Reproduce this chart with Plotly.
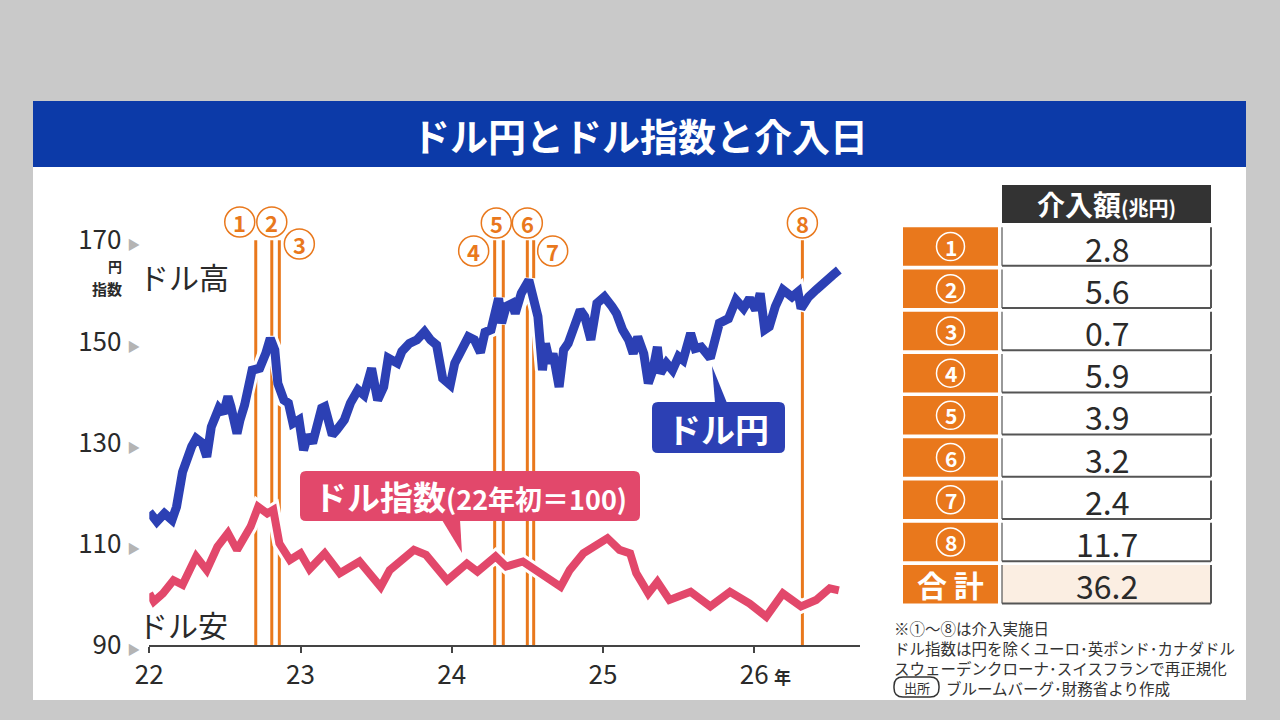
import plotly.graph_objects as go

# time axis in decimal years (2022.5 = mid 2022)
# ドル円 (円)
usdjpy_t = [
    2022.00, 2022.05, 2022.10, 2022.15, 2022.18, 2022.22, 2022.28, 2022.31, 2022.35, 2022.38,
    2022.41, 2022.46, 2022.49, 2022.52, 2022.54, 2022.58, 2022.60, 2022.63, 2022.68, 2022.73,
    2022.77, 2022.80, 2022.83, 2022.84, 2022.85, 2022.89, 2022.92, 2022.95, 2022.99, 2023.02,
    2023.05, 2023.08, 2023.14, 2023.16, 2023.21, 2023.24, 2023.29, 2023.33, 2023.38, 2023.42,
    2023.47, 2023.51, 2023.55, 2023.58, 2023.64, 2023.67, 2023.72, 2023.77, 2023.82, 2023.86,
    2023.90, 2023.94, 2023.99, 2024.02, 2024.07, 2024.11, 2024.15, 2024.19, 2024.22, 2024.26,
    2024.31, 2024.33, 2024.36, 2024.40, 2024.42, 2024.46, 2024.51, 2024.54, 2024.57, 2024.60,
    2024.62, 2024.65, 2024.67, 2024.71, 2024.74, 2024.77, 2024.82, 2024.85, 2024.88, 2024.92,
    2024.96, 2025.01, 2025.06, 2025.09, 2025.13, 2025.17, 2025.20, 2025.23, 2025.27, 2025.30,
    2025.33, 2025.36, 2025.38, 2025.42, 2025.46, 2025.50, 2025.53, 2025.58, 2025.61, 2025.65,
    2025.71, 2025.74, 2025.77, 2025.83, 2025.88, 2025.93, 2025.97, 2026.01, 2026.04, 2026.07,
    2026.10, 2026.14, 2026.19, 2026.25, 2026.29, 2026.31, 2026.36, 2026.41, 2026.47, 2026.52,
    2026.56,
]
usdjpy = [
    116.3, 114.4, 116.0, 114.7, 117.3, 124.2, 129.2, 130.8, 129.9, 127.2,
    133.1, 136.8, 135.8, 139.1, 137.1, 131.8, 134.5, 137.4, 144.3, 144.7,
    147.6, 150.6, 148.3, 146.3, 141.7, 138.4, 137.8, 133.8, 134.5, 128.5,
    131.5, 129.9, 136.8, 137.1, 131.5, 132.5, 134.5, 137.8, 140.4, 139.4,
    144.7, 138.4, 141.0, 146.7, 145.7, 148.0, 149.6, 150.3, 151.9, 150.3,
    149.3, 142.7, 141.4, 145.7, 148.6, 150.9, 150.3, 147.8, 151.8, 152.3,
    158.5, 153.6, 156.9, 157.5, 155.5, 159.5, 162.1, 158.8, 154.9, 144.3,
    149.6, 145.7, 147.6, 141.0, 148.3, 149.6, 153.6, 156.2, 154.9, 150.3,
    157.5, 158.8, 156.9, 155.5, 152.3, 150.3, 147.6, 150.9, 147.6, 141.7,
    144.3, 148.9, 143.7, 145.7, 144.3, 147.0, 146.3, 151.6, 148.6, 148.9,
    146.7, 149.6, 153.6, 154.5, 158.2, 156.5, 158.5, 156.2, 159.5, 152.3,
    152.9, 156.9, 160.2, 158.8, 159.8, 156.5, 158.8, 160.2, 161.5, 163.1,
    164.1,
]

# ドル指数 (22年初=100)
dxy_t = [
    2022.00, 2022.03, 2022.09, 2022.16, 2022.22, 2022.31, 2022.38, 2022.45, 2022.52, 2022.58,
    2022.67, 2022.72, 2022.78, 2022.82, 2022.86, 2022.93, 2023.00, 2023.06, 2023.16, 2023.26,
    2023.39, 2023.45, 2023.53, 2023.59, 2023.75, 2023.83, 2023.97, 2024.10, 2024.17, 2024.29,
    2024.36, 2024.47, 2024.54, 2024.63, 2024.72, 2024.78, 2024.87, 2025.03, 2025.11, 2025.18,
    2025.22, 2025.30, 2025.36, 2025.44, 2025.58, 2025.71, 2025.84, 2025.97, 2026.08, 2026.19,
    2026.31, 2026.41, 2026.50, 2026.56,
]
dxy = [
    100.2, 98.6, 100.2, 102.8, 101.9, 107.5, 104.8, 109.4, 112.1, 108.8,
    113.4, 117.3, 116.0, 116.7, 110.1, 106.8, 108.1, 105.0, 108.1, 104.2,
    106.5, 104.5, 101.5, 104.8, 108.8, 107.8, 102.8, 106.1, 104.5, 107.5,
    105.5, 106.5, 105.2, 103.5, 101.5, 104.8, 108.1, 111.1, 108.8, 108.1,
    104.2, 100.2, 102.5, 98.9, 100.5, 97.6, 100.5, 98.2, 95.6, 100.2,
    97.6, 98.9, 101.2, 100.8,
]

# 介入日と介入額(兆円)
interv_t = [2022.704, 2022.810, 2022.860, 2024.284, 2024.341, 2024.500, 2024.542, 2026.319]
interv_nums = ['1', '2', '3', '4', '5', '6', '7', '8']
interv_amounts = [2.8, 5.6, 0.7, 5.9, 3.9, 3.2, 2.4, 11.7]

year_ticks = [2022, 2023, 2024, 2025, 2026]
year_labels = ['22', '23', '24', '25', '26']
y_ticks = [90, 110, 130, 150, 170]

W, H = 1280, 720
FONT = 'Noto Sans CJK JP'
BLUE = '#2c40b4'
RED = '#e2486b'
ORANGE = '#e9781c'
TITLE_BLUE = '#0c3aa8'
DARK = '#2a2a2a'


def px(x):
    return x / W


def py(y):
    return 1 - y / H


def label(x, y, text, size, color=DARK, xanchor='center', **kw):
    # text placed in figure pixels
    d = dict(xref='paper', yref='paper', x=px(x), y=py(y), text=text,
             showarrow=False, xanchor=xanchor, yanchor='middle',
             font=dict(family=FONT, size=size, color=color))
    d.update(kw)
    return d


def rounded(x0, y0, x1, y1, r):
    # rounded rectangle path in figure pixels -> paper coords
    return ('M{},{} L{},{} Q{},{} {},{} L{},{} Q{},{} {},{} L{},{} Q{},{} {},{} '
            'L{},{} Q{},{} {},{} Z').format(
        px(x0 + r), py(y0), px(x1 - r), py(y0), px(x1), py(y0), px(x1), py(y0 + r),
        px(x1), py(y1 - r), px(x1), py(y1), px(x1 - r), py(y1),
        px(x0 + r), py(y1), px(x0), py(y1), px(x0), py(y1 - r),
        px(x0), py(y0 + r), px(x0), py(y0), px(x0 + r), py(y0))


def tri(p1, p2, p3):
    return 'M{},{} L{},{} L{},{} Z'.format(px(p1[0]), py(p1[1]), px(p2[0]), py(p2[1]),
                                          px(p3[0]), py(p3[1]))


fig = go.Figure()

# white halo under each line, then the line itself
for t, vals, color, width in [(usdjpy_t, usdjpy, BLUE, 9), (dxy_t, dxy, RED, 8)]:
    fig.add_trace(go.Scatter(x=t, y=vals, mode='lines',
                             line=dict(color='white', width=width + 6),
                             hoverinfo='skip', showlegend=False))
    fig.add_trace(go.Scatter(x=t, y=vals, mode='lines',
                             line=dict(color=color, width=width),
                             showlegend=False))

shapes = []
annotations = []

# panel + title bar
shapes.append(dict(type='rect', xref='paper', yref='paper', layer='below',
                   x0=px(33), x1=px(1246), y0=py(700), y1=py(167),
                   fillcolor='white', line=dict(width=0)))
shapes.append(dict(type='rect', xref='paper', yref='paper', layer='below',
                   x0=px(33), x1=px(1246), y0=py(167), y1=py(101),
                   fillcolor=TITLE_BLUE, line=dict(width=0)))
annotations.append(label(640, 134, '<b>ドル円とドル指数と介入日</b>', 38, 'white'))

# intervention lines and circled numbers
label_pos = [(-16, 222), (0, 222), (20, 244), (-21, 251),
             (-7, 223), (0, 223), (19, 251), (0, 223)]
for t, n, (dx, cy) in zip(interv_t, interv_nums, label_pos):
    shapes.append(dict(type='line', xref='x', yref='y', layer='below',
                       x0=t, x1=t, y0=90, y1=170,
                       line=dict(color=ORANGE, width=3)))
    shapes.append(dict(type='circle', xref='x', yref='paper',
                       xsizemode='pixel', ysizemode='pixel',
                       xanchor=t, yanchor=py(cy),
                       x0=dx - 15, x1=dx + 15, y0=-15, y1=15,
                       fillcolor='white', line=dict(color=ORANGE, width=1.5)))
    annotations.append(dict(xref='x', yref='paper', x=t, xshift=dx, y=py(cy),
                            xanchor='center', yanchor='middle',
                            text='<b>' + n + '</b>', showarrow=False,
                            font=dict(family=FONT, size=22, color=ORANGE)))

# callouts
shapes.append(dict(type='path', xref='paper', yref='paper',
                   path=rounded(652, 402, 785, 453, 6), fillcolor=BLUE, line=dict(width=0)))
shapes.append(dict(type='path', xref='paper', yref='paper',
                   path=tri((712, 366), (715, 403), (727, 403)), fillcolor=BLUE,
                   line=dict(width=0)))
annotations.append(label(718, 428, '<b>ドル円</b>', 34, 'white'))

shapes.append(dict(type='path', xref='paper', yref='paper',
                   path=rounded(300, 471, 640, 521, 6), fillcolor=RED, line=dict(width=0)))
shapes.append(dict(type='path', xref='paper', yref='paper',
                   path=tri((442, 520), (462, 553), (460, 520)), fillcolor=RED,
                   line=dict(width=0)))
annotations.append(label(470, 496,
                         '<b>ドル指数<span style="font-size:27px">(22年初＝100)</span></b>',
                         33, 'white'))

# axis side labels
annotations.append(label(184, 276, 'ドル高', 30))
annotations.append(label(183, 624, 'ドル安', 30))
annotations.append(label(115, 266, '<b>円</b>', 14))
annotations.append(label(107, 288, '<b>指数</b>', 15))
annotations.append(label(782, 676, '<b>年</b>', 17))

# right-hand table
tx0, tx1, vx0, vx1 = 903, 998, 1002, 1211
shapes.append(dict(type='rect', xref='paper', yref='paper',
                   x0=px(vx0), x1=px(vx1), y0=py(223), y1=py(185),
                   fillcolor='#333333', line=dict(width=0)))
annotations.append(label((vx0 + vx1) / 2, 204,
                         '<b>介入額<span style="font-size:20px">(兆円)</span></b>', 28, 'white'))

rows = [(n, '{:.1f}'.format(a)) for n, a in zip(interv_nums, interv_amounts)]
rows.append(('合計', '{:.1f}'.format(sum(interv_amounts))))
for i, (n, val) in enumerate(rows):
    top = 227.3 + 42.2 * i
    bot = top + 38.5
    mid = (top + bot) / 2
    total_row = n == '合計'
    shapes.append(dict(type='rect', xref='paper', yref='paper',
                       x0=px(tx0), x1=px(tx1), y0=py(bot), y1=py(top),
                       fillcolor=ORANGE, line=dict(width=0)))
    shapes.append(dict(type='rect', xref='paper', yref='paper',
                       x0=px(vx0), x1=px(vx1), y0=py(bot), y1=py(top),
                       fillcolor='#fbeee2' if total_row else 'white',
                       line=dict(width=0)))
    for x0, y0, x1, y1, w in [(vx0, top, vx0, bot, 1.2), (vx1, top, vx1, bot, 2),
                              (vx0, bot, vx1, bot, 2)]:
        shapes.append(dict(type='line', xref='paper', yref='paper',
                           x0=px(x0), x1=px(x1), y0=py(y0), y1=py(y1),
                           line=dict(color='#555555', width=w)))
    cx = (tx0 + tx1) / 2
    if total_row:
        annotations.append(label(cx, mid, '<b>合 計</b>', 30, 'white'))
    else:
        shapes.append(dict(type='circle', xref='paper', yref='paper',
                           x0=px(cx - 14), x1=px(cx + 14), y0=py(mid + 14), y1=py(mid - 14),
                           line=dict(color='white', width=1.5)))
        annotations.append(label(cx, mid, '<b>' + n + '</b>', 21, 'white'))
    annotations.append(label((vx0 + vx1) / 2, mid + 1, val, 32))

# notes
notes = ['※①～⑧は介入実施日',
         'ドル指数は円を除くユーロ･英ポンド･カナダドル',
         'スウェーデンクローナ･スイスフランで再正規化']
annotations.append(label(892, 648, '<br>'.join(notes), 15.5, '#333333', xanchor='left',
                         align='left'))
shapes.append(dict(type='path', xref='paper', yref='paper',
                   path=rounded(894, 677, 939, 697, 9), line=dict(color='#333333', width=1.5)))
annotations.append(label(916.5, 687, '出所', 13, '#333333'))
annotations.append(label(944, 688, 'ブルームバーグ･財務省より作成', 15.5, '#333333',
                         xanchor='left'))

tri_span = ' <span style="font-size:13px;color:#b4b4b4">▶</span>'
fig.update_layout(
    width=W, height=H,
    margin=dict(l=0, r=0, t=0, b=0, autoexpand=False),
    paper_bgcolor='#c9c9c9',
    plot_bgcolor='rgba(0,0,0,0)',
    font=dict(family=FONT, color=DARK),
    xaxis=dict(domain=[px(149.3), px(860)], automargin=False,
               range=[2022.0, 2026.70],
               tickvals=year_ticks, ticktext=year_labels,
               showgrid=False, zeroline=False,
               showline=True, linecolor='#444444', linewidth=2,
               ticks='outside', ticklen=6, tickwidth=2, tickcolor='#444444',
               tickfont=dict(family=FONT, size=26, color=DARK)),
    yaxis=dict(domain=[py(645), py(214.9)], range=[90, 175], automargin=False,
               tickvals=y_ticks, ticktext=[str(v) + tri_span for v in y_ticks],
               showgrid=False, zeroline=False, showline=False, ticks='',
               ticklabelstandoff=8,
               tickfont=dict(family=FONT, size=26, color=DARK)),
    shapes=shapes,
    annotations=annotations,
)

fig.write_html('out.html', config={'displayModeBar': False},
               post_script="document.body.style.margin='0px';")
